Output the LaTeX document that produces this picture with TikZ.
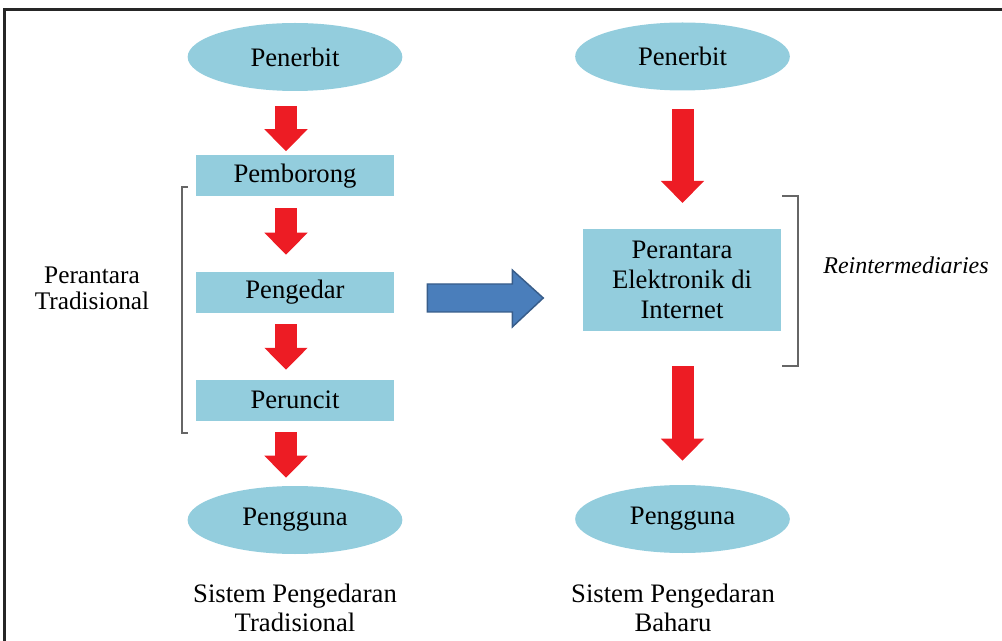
\documentclass[tikz,border=0pt]{standalone}
\usepackage{fontspec}
\setmainfont{Liberation Serif}
\usetikzlibrary{shapes.geometric, arrows.meta, calc}

\definecolor{boxblue}{HTML}{93CDDD}
\definecolor{arrowred}{HTML}{ED1C24}
\definecolor{shiftblue}{HTML}{4A7EBB}
\definecolor{shiftedge}{HTML}{385D8A}

\begin{document}
\begin{tikzpicture}[
        x=0.75pt, y=-0.75pt,
        party/.style={ellipse, fill=boxblue, inner sep=0pt, minimum width=161pt, minimum height=51pt, font=\fontsize{20}{22.5}\selectfont},
        agent/.style={rectangle, fill=boxblue, inner sep=0pt, minimum width=148.5pt, minimum height=30.75pt, font=\fontsize{20}{22.5}\selectfont},
        caption/.style={align=center, inner sep=0pt},
        flow/.style={arrowred, line width=16.5pt, -{Triangle[width=31.5pt, length=16.5pt]}},
        shiftarrow/.style={fill=shiftblue, draw=shiftedge, line width=1.1pt, line join=miter},
        bracket/.style={draw=black!60, line width=1.1pt}
    ]
        \useasboundingbox (0,0) rectangle (1002,641);

        % Frame
        \draw[line width=2.25pt, black!85] (4.5,645) -- (4.5,10) -- (1006,10);

        % Nodes: traditional system
        \node[party] (pen1) at (295,57) {Penerbit};
        \node[agent] (pemb) at (295,176) {Pemborong};
        \node[agent] (peng) at (295,292.5) {Pengedar};
        \node[agent] (perun) at (295,400) {Peruncit};
        \node[party] (guna1) at (295,520) {Pengguna};
        \node[caption, font=\fontsize{20}{22}\selectfont] (cap1) at (295,608) {Sistem Pengedaran\\Tradisional};
        \node[caption, font=\fontsize{19}{19.5}\selectfont] (trad) at (92,288) {Perantara\\Tradisional};

        % Nodes: new system
        \node[party] (pen2) at (682.5,56.5) {Penerbit};
        \node[agent, minimum width=148pt, minimum height=77pt, align=center] (elek) at (682,280) {Perantara\\Elektronik di\\Internet};
        \node[party] (guna2) at (682.5,519) {Pengguna};
        \node[caption, font=\fontsize{20}{22}\selectfont] (cap2) at (673,608) {Sistem Pengedaran\\Baharu};
        \node[caption, font=\fontsize{18}{20}\selectfont\itshape] (reint) at (906,265) {Reintermediaries};

        % Paths
        \draw[flow, shorten <=11.25pt, shorten >=3pt] ([xshift=-6.75pt]pen1.south) -- ([xshift=-6.75pt]pemb.north);
        \draw[flow, shorten <=8.6pt, shorten >=12.75pt] ([xshift=-6.75pt]pemb.south) -- ([xshift=-6.75pt]peng.north);
        \draw[flow, shorten <=8.25pt, shorten >=7.1pt] ([xshift=-6.75pt]peng.south) -- ([xshift=-6.75pt]perun.north);
        \draw[flow, shorten <=8.6pt, shorten >=6pt] ([xshift=-6.75pt]perun.south) -- ([xshift=-6.75pt]guna1.north);
        \draw[flow, shorten <=13.9pt, shorten >=19.1pt] (pen2.south) -- (pen2.south |- elek.north);
        \draw[flow, shorten <=25.9pt, shorten >=18pt] (guna2.north |- elek.south) -- (guna2.north);

        % Shift between systems
        \draw[shiftarrow] ($(peng.east)+(33,-8.5)$) coordinate (shiftstart) -- ++(85,0) -- ++(0,-14) -- ++(31,28) -- ++(-31,29) -- ++(0,-15) -- ++(-85,0) -- cycle;

        % Brackets
        \draw[bracket] (188,187) -- (182,187) -- (182,433) -- (188,433);
        \draw[bracket] (782,196) -- (798,196) -- (798,366) -- (782,366);

    \end{tikzpicture}
\end{document}
